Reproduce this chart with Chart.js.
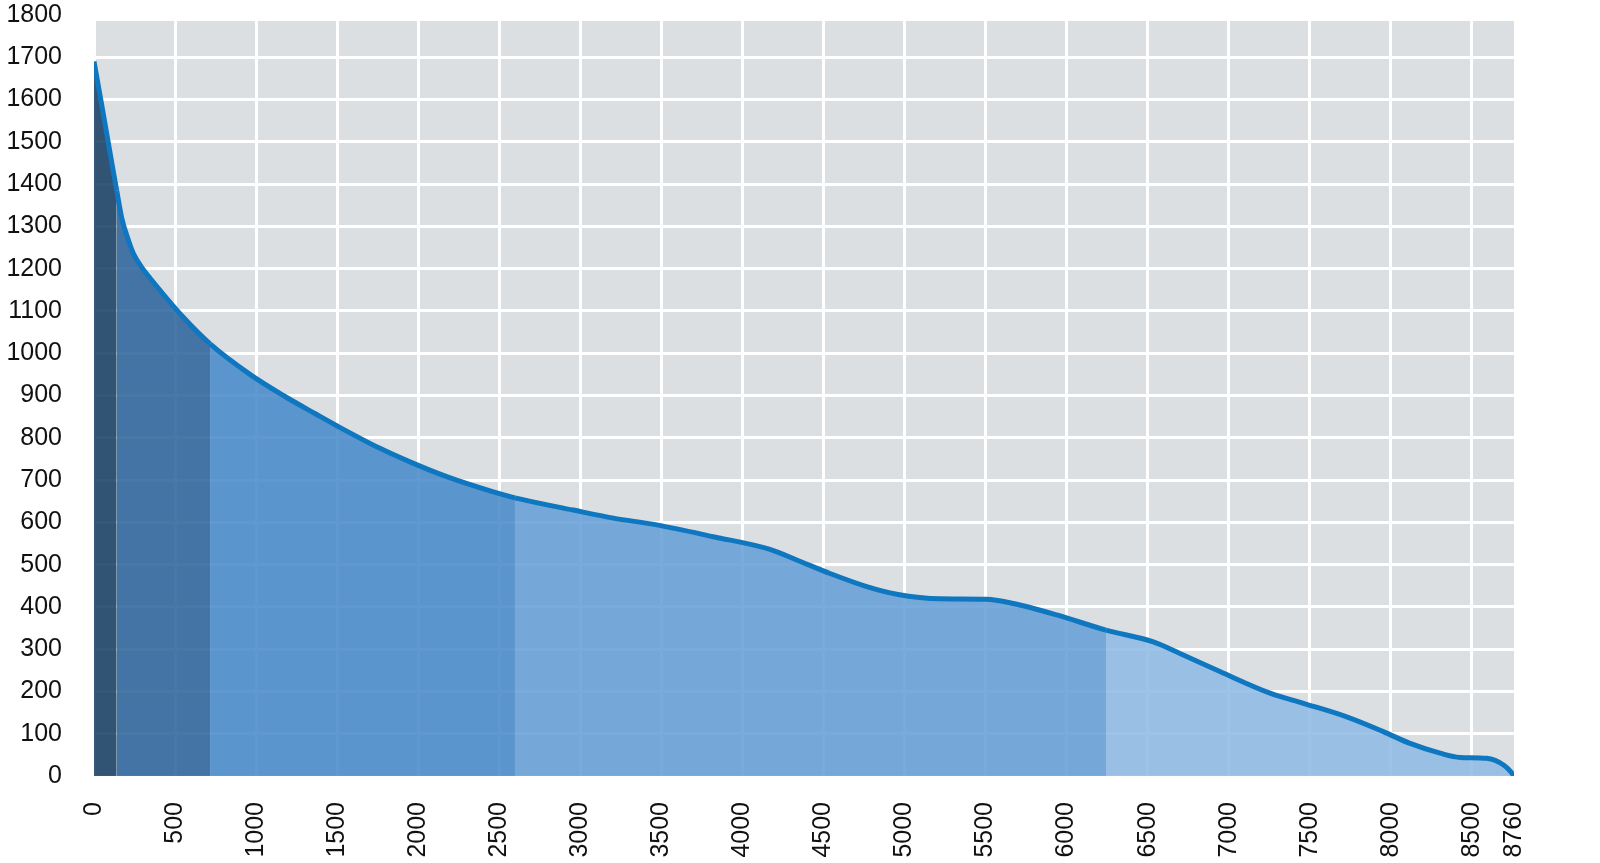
<!DOCTYPE html>
<html>
<head>
<meta charset="utf-8">
<script src="https://cdn.jsdelivr.net/npm/chart.js@4.4.1/dist/chart.umd.min.js"></script>
<style>
  html, body { margin: 0; padding: 0; background: #fff; }
  #wrap { width: 1600px; height: 863px; position: relative; }
</style>
</head>
<body>
<div id="wrap"><canvas id="grafico"></canvas></div>
<script>
// curva de duração de carga - horas do ano x carga
const horas = [0, 60, 119, 140, 171, 212, 243, 300, 345, 551, 716, 962, 1168, 1374, 1500,
  1764, 1949, 2176, 2464, 2597, 2957, 3204, 3471, 3821, 4170, 4335, 4540, 4767, 4952,
  5219, 5507, 5671, 5939, 6243, 6535, 6720, 6946, 7255, 7461, 7728, 7954, 8119, 8304,
  8427, 8592, 8700, 8745, 8760];
const carga = [1690, 1560, 1430, 1385, 1320, 1268, 1236, 1200, 1178, 1085, 1022, 950, 900, 855, 828,
  775, 743, 708, 672, 658, 629, 610, 594, 566, 536, 511, 479, 448, 430,
  419, 418, 408, 381, 345, 317, 286, 247, 196, 172, 140, 105, 77, 54,
  44, 42, 25, 8, 0];

// limites das faixas coloridas (em horas)
const faixas = [140, 716, 2597, 6243, 8760];
const coresFaixas = ['rgba(25,65,100,0.88)', 'rgba(46,101,156,0.88)', 'rgba(73,139,202,0.88)',
  'rgba(102,161,215,0.88)', 'rgba(143,187,229,0.88)'];

const ticksX = [0, 500, 1000, 1500, 2000, 2500, 3000, 3500, 4000, 4500, 5000, 5500, 6000, 6500, 7000, 7500, 8000, 8500, 8760];
const ticksY = [0, 100, 200, 300, 400, 500, 600, 700, 800, 900, 1000, 1100, 1200, 1300, 1400, 1500, 1600, 1700, 1800];

function corDaFaixa(x) {
  for (let i = 0; i < faixas.length; i++) {
    if (x < faixas[i]) return coresFaixas[i];
  }
  return coresFaixas[coresFaixas.length - 1];
}

// fundo cinza da área do gráfico
const fundo = {
  id: 'fundo',
  beforeDraw(chart) {
    const { ctx, chartArea, scales } = chart;
    const topo = scales.y.getPixelForValue(1786);
    ctx.save();
    ctx.fillStyle = '#dcdfe2';
    ctx.fillRect(chartArea.left, topo, chartArea.right - chartArea.left, chartArea.bottom - topo);
    ctx.restore();
  }
};

const fonte = { family: '"Liberation Sans", Arial, Helvetica, sans-serif', size: 25 };

new Chart(document.getElementById('grafico'), {
  type: 'line',
  data: {
    datasets: [{
      data: horas.map((h, i) => ({ x: h, y: carga[i] })),
      borderColor: '#0f77c0',
      borderWidth: 5,
      pointRadius: 0,
      cubicInterpolationMode: 'monotone',
      fill: 'origin',
      backgroundColor: coresFaixas[0],
      segment: {
        backgroundColor: c => corDaFaixa(c.p0.parsed.x)
      }
    }]
  },
  options: {
    responsive: true,
    maintainAspectRatio: false,
    animation: false,
    layout: { padding: { top: 15, right: 86, left: 0, bottom: 0 } },
    plugins: {
      legend: { display: false },
      tooltip: { enabled: false }
    },
    scales: {
      x: {
        type: 'linear',
        min: 0,
        max: 8760,
        afterBuildTicks: s => { s.ticks = ticksX.map(v => ({ value: v })); },
        afterFit: s => { s.height = 87; s.paddingLeft = 0; s.paddingRight = 0; s.paddingTop = 0; s.paddingBottom = 0; },
        border: { display: false },
        grid: {
          color: c => (c.tick && c.tick.value === 8760) ? 'rgba(0,0,0,0)' : '#ffffff',
          lineWidth: 3,
          drawTicks: false
        },
        ticks: {
          color: '#111',
          font: fonte,
          padding: 26,
          minRotation: 90,
          maxRotation: 90,
          autoSkip: false,
          callback: v => String(v)
        }
      },
      y: {
        min: 0,
        max: 1800,
        afterBuildTicks: s => { s.ticks = ticksY.map(v => ({ value: v })); },
        afterFit: s => { s.width = 94; s.paddingTop = 0; s.paddingBottom = 0; },
        border: { display: false },
        grid: {
          color: '#ffffff',
          lineWidth: 3,
          drawTicks: false
        },
        ticks: {
          color: '#111',
          font: fonte,
          padding: 32,
          autoSkip: false,
          callback: v => String(v)
        }
      }
    }
  },
  plugins: [fundo]
});
</script>
</body>
</html>
